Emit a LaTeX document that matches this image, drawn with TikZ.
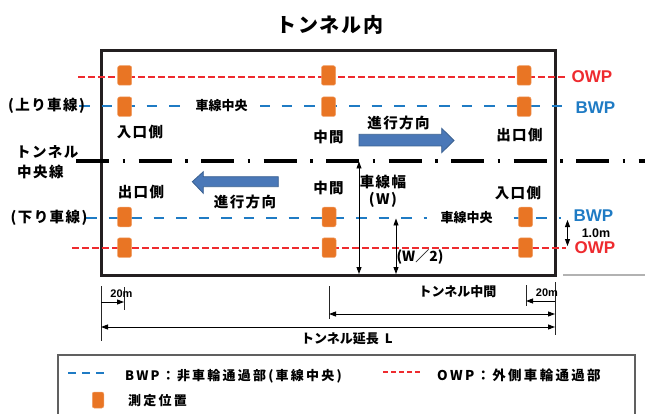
\documentclass[tikz,border=0pt]{standalone}
\usepackage{fontspec}
\newfontfamily\jp{Noto Sans CJK JP}
\newfontfamily\jpm{Noto Sans CJK JP}[LetterSpace=10]
\newfontfamily\jpl{Noto Sans CJK JP}[LetterSpace=17]
\newfontfamily\lat{Liberation Sans}
\usetikzlibrary{arrows.meta}
\definecolor{owpred}{HTML}{EE2B2F}
\definecolor{bwpblue}{HTML}{1F7BC4}
\definecolor{markorange}{HTML}{E97524}
\definecolor{arrfill}{HTML}{4A78B8}
\definecolor{arrdraw}{HTML}{3A6090}
\definecolor{boxblack}{HTML}{231F20}
\tikzset{
  lbl/.style={inner sep=0pt, font=\jpm\bfseries\fontsize{14.5}{16}\selectfont},
  sml/.style={inner sep=0pt, font=\jp\bfseries\fontsize{13}{15}\selectfont},
  leg/.style={inner sep=0pt, anchor=west, font=\jpl\bfseries\fontsize{13}{15}\selectfont},
  wp/.style={inner sep=0pt, font=\lat\bfseries\fontsize{17}{17}\selectfont},
  mk/.style={fill=markorange, draw=markorange!70, line width=0.5pt, rounded corners=2pt,
             minimum width=14pt, minimum height=19.5pt, inner sep=0pt},
  owpline/.style={draw=owpred, line width=2pt, dash pattern=on 6.5pt off 3.5pt},
  bwpline/.style={draw=bwpblue, line width=2pt, dash pattern=on 10.5pt off 12pt},
  dimline/.style={line width=0.9pt, {Triangle[length=7pt,width=5pt]}-{Triangle[length=7pt,width=5pt]}},
  oneway/.style={line width=0.9pt, -{Triangle[length=7pt,width=5pt]}},
  tickline/.style={line width=0.8pt, draw=black!85},
  blockarrow/.style={fill=arrfill, draw=arrdraw, line width=0.8pt, line join=miter}
}
\begin{document}
\begin{tikzpicture}[x=1pt,y=-1pt]
\useasboundingbox (0,0) rectangle (645,414);
\clip (0,0) rectangle (645,414);
% title
\node[lbl, font=\jpm\bfseries\fontsize{20}{22}\selectfont] (title) at (330,25) {トンネル内};
% tunnel box
\draw[draw=boxblack, line width=3pt] (101,51) rectangle (555,275);
\coordinate (gl1) at (563,275); \coordinate (gl2) at (645,275);
\draw[gray!60, line width=1.2pt] (gl1) -- (gl2);
% centre line
\coordinate (cl1) at (76,161); \coordinate (cl2) at (650,161);
\draw[black, line width=3.3pt, dash pattern=on 33pt off 13.5pt on 2.5pt off 13.5pt] (cl1) -- (cl2);
% wheel path lines
\coordinate (ro1) at (78,77); \coordinate (ro2) at (567,77);
\draw[owpline] (ro1) -- (ro2);
\coordinate (bo1) at (79,106); \coordinate (bo2) at (566,106);
\draw[bwpline] (bo1) -- (bo2);
\coordinate (ru1) at (72,248); \coordinate (ru2) at (566,248);
\draw[owpline] (ru1) -- (ru2);
\coordinate (bu1) at (86,218); \coordinate (bu2) at (561,218);
\draw[bwpline] (bu1) -- (bu2);
\node[sml, fill=white, inner xsep=12pt, inner ysep=3pt] (lc1) at (221.5,106) {車線中央};
\node[sml, fill=white, inner xsep=13.5pt, inner ysep=3pt] (lc2) at (466.7,218) {車線中央};
% markers
\node[mk] (m1) at (124.7,75.5) {};
\node[mk] (m2) at (328.5,75.5) {};
\node[mk] (m3) at (524,75.5) {};
\node[mk] (m4) at (124.7,106.7) {};
\node[mk] (m5) at (328.5,106.7) {};
\node[mk] (m6) at (524,106.7) {};
\node[mk] (m7) at (124.5,217) {};
\node[mk] (m8) at (329,217) {};
\node[mk] (m9) at (525.5,217) {};
\node[mk] (m10) at (124.5,247.7) {};
\node[mk] (m11) at (329,247.7) {};
\node[mk] (m12) at (525.5,247.7) {};
% right side labels
\node[wp, text=owpred] (owp1) at (592,76.5) {OWP};
\node[wp, text=bwpblue] (bwp1) at (595.5,107.5) {BWP};
\node[wp, text=bwpblue] (bwp2) at (593.5,216) {BWP};
\node[wp, text=owpred] (owp2) at (595,247.3) {OWP};
\node[inner sep=0pt, font=\lat\bfseries\fontsize{12.5}{13}\selectfont] (one) at (596,233) {1.0m};
\coordinate (d1a) at (567.5,220); \coordinate (d1b) at (567.5,246);
\draw[dimline] (d1a) -- (d1b);
% left labels
\node[lbl] (up) at (46.5,106) {(上り車線)};
\node[lbl] (dn) at (49,218) {(下り車線)};
\node[lbl, anchor=west] (cl1t) at (16,151.7) {トンネル};
\node[lbl, anchor=west] (cl2t) at (17,171.7) {中央線};
% inner labels
\node[lbl] (t1) at (140,132) {入口側};
\node[lbl] (t2) at (328.5,136.7) {中間};
\node[lbl] (t3) at (519.5,134.5) {出口側};
\node[lbl] (t4) at (398.5,123.3) {進行方向};
\node[lbl] (b1) at (141,191.7) {出口側};
\node[lbl] (b2) at (328.5,188) {中間};
\node[lbl] (b3) at (518,193) {入口側};
\node[lbl] (b4) at (245,201.7) {進行方向};
% block arrows
\draw[blockarrow] (359,134.3) -- (441.7,134.3) -- (441.7,128.3) -- (454,140.5) -- (441.7,152.7) -- (441.7,146) -- (359,146) -- cycle;
\draw[blockarrow] (278.3,176.7) -- (203.3,176.7) -- (203.3,171.7) -- (192.3,181.7) -- (203.3,193.3) -- (203.3,186.7) -- (278.3,186.7) -- cycle;
% lane width arrows
\coordinate (w1a) at (359,161.5); \coordinate (w1b) at (359,274);
\draw[dimline] (w1a) -- (w1b);
\coordinate (w2a) at (396,218.5); \coordinate (w2b) at (396,274);
\draw[dimline] (w2a) -- (w2b);
\node[lbl] (lw1) at (383,181.7) {車線幅};
\node[lbl] (lw2) at (383,200) {(W)};
\node[sml, font=\jp\bfseries\fontsize{14}{16}\selectfont] (lw3) at (420,256.7) {(W／2)};
% bottom dimensions
\coordinate (k1a) at (101,286); \coordinate (k1b) at (101,341);
\coordinate (k2a) at (124,287); \coordinate (k2b) at (124,310);
\coordinate (k3a) at (329,286); \coordinate (k3b) at (329,319);
\coordinate (k4a) at (526,285); \coordinate (k4b) at (526,306);
\coordinate (k5a) at (555,282); \coordinate (k5b) at (555,335);
\foreach \a/\b in {k1a/k1b,k2a/k2b,k3a/k3b,k4a/k4b,k5a/k5b} \draw[tickline] (\a) -- (\b);
\coordinate (a1a) at (101,302); \coordinate (a1b) at (124,302);
\draw[oneway] (a1a) -- (a1b);
\coordinate (a2a) at (555,301); \coordinate (a2b) at (526,301);
\draw[oneway] (a2a) -- (a2b);
\coordinate (a3a) at (329,314); \coordinate (a3b) at (555,314);
\draw[dimline] (a3a) -- (a3b);
\coordinate (a4a) at (101,327); \coordinate (a4b) at (555,327);
\draw[dimline] (a4a) -- (a4b);
\node[inner sep=0pt, font=\lat\bfseries\fontsize{11}{12}\selectfont] (tw1) at (121.5,294) {20m};
\node[inner sep=0pt, font=\lat\bfseries\fontsize{11}{12}\selectfont] (tw2) at (547,293) {20m};
\node[sml] (mid) at (457.5,291.7) {トンネル中間};
\node[sml] (len) at (347,339) {トンネル延長\hspace{6pt}L};
% legend
\draw[gray!75!black, line width=1.2pt] (58,355) rectangle (635,430);
\coordinate (lb1) at (68,373); \coordinate (lb2) at (106,373);
\draw[bwpblue, line width=2pt, dash pattern=on 8pt off 6pt] (lb1) -- (lb2);
\node[leg] (legb) at (125,376) {BWP：非車輪通過部(車線中央)};
\coordinate (lr1) at (383,372); \coordinate (lr2) at (423,372);
\draw[owpred, line width=2pt, dash pattern=on 4.5pt off 3.5pt] (lr1) -- (lr2);
\node[leg, font=\jpl\bfseries\fontsize{13.5}{15}\selectfont] (lego) at (437,375.7) {OWP：外側車輪通過部};
\node[mk, minimum width=11.5pt, minimum height=16pt] (legm) at (98,400) {};
\node[leg] (legmt) at (128,400.7) {測定位置};
\end{tikzpicture}
\end{document}
